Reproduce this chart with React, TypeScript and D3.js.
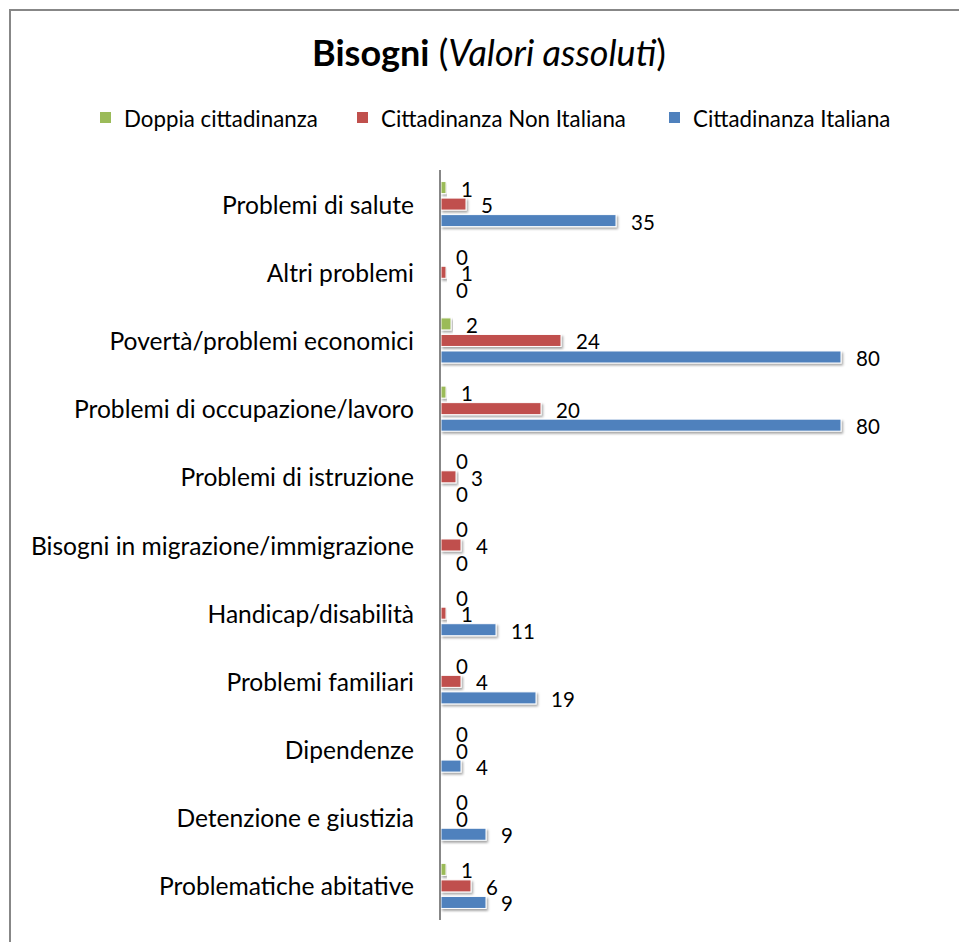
import React from "react";
import * as d3 from "d3";

const categories = [
  "Problemi di salute",
  "Altri problemi",
  "Povertà/problemi economici",
  "Problemi di occupazione/lavoro",
  "Problemi di istruzione",
  "Bisogni in migrazione/immigrazione",
  "Handicap/disabilità",
  "Problemi familiari",
  "Dipendenze",
  "Detenzione e giustizia",
  "Problematiche abitative",
];
const seriesNames = ["Doppia cittadinanza", "Cittadinanza Non Italiana", "Cittadinanza Italiana"];
const doppia = [1, 0, 2, 1, 0, 0, 0, 0, 0, 0, 1];
const nonItaliana = [5, 1, 24, 20, 3, 4, 1, 4, 0, 0, 6];
const italiana = [35, 0, 80, 80, 0, 0, 11, 19, 4, 9, 9];
const colors = ["#9BBB59", "#C0504D", "#4F81BD"];

const W = 959;
const H = 942;
const FONT = "Lato, 'Open Sans', sans-serif";

export default function App() {
  const series = [doppia, nonItaliana, italiana];
  const x = d3.scaleLinear().domain([0, 80]).range([440, 840]);
  const y = d3.scaleBand<string>().domain(categories).range([170, 920]).paddingInner(0).paddingOuter(0);
  const bw = y.bandwidth();
  const inner = d3
    .scaleBand<number>()
    .domain([0, 1, 2])
    .range([9.3, bw - 9.3])
    .paddingInner(0)
    .paddingOuter(0);
  const slot = inner.bandwidth();
  const barH = slot - 4.5;

  const legendX = [100, 357, 669];

  return (
    <div style={{ position: "absolute", left: 0, top: 0 }}>
      <svg width={W} height={H} style={{ display: "block", background: "#fff" }} fontFamily={FONT}>
        <defs>
          <filter id="sh" x="-10%" y="-50%" width="130%" height="250%">
            <feDropShadow dx="1.5" dy="2" stdDeviation="1.2" floodColor="#000" floodOpacity="0.35" />
          </filter>
        </defs>
        <rect x={10} y={10} width={W + 20} height={H + 20} fill="#fff" stroke="#878787" strokeWidth={2} />

        <text x={489} y={66} textAnchor="middle" fontSize={36} fill="#000">
          <tspan fontWeight="bold">Bisogni</tspan>
          <tspan> (</tspan>
          <tspan fontStyle="italic">Valori assoluti</tspan>
          <tspan>)</tspan>
        </text>

        {seriesNames.map((n, i) => (
          <g key={n}>
            <rect x={legendX[i]} y={112} width={11} height={11} fill={colors[i]} />
            <text x={legendX[i] + 24} y={118} dominantBaseline="central" fontSize={22.3} fill="#000">
              {n}
            </text>
          </g>
        ))}

        {categories.map((c, ci) => {
          const y0 = y(c)!;
          return (
            <g key={c}>
              <text
                x={414}
                y={y0 + bw / 2}
                textAnchor="end"
                dominantBaseline="central"
                fontSize={24.6}
                fill="#000"
              >
                {c}
              </text>
              {series.map((s, si) => {
                const v = s[ci];
                const cy = y0 + inner(si)! + slot / 2;
                return (
                  <g key={si}>
                    {v > 0 && (
                      <rect
                        x={x(0) + 1}
                        y={cy - barH / 2}
                        width={x(v) - x(0)}
                        height={barH}
                        fill={colors[si]}
                        stroke="#fff"
                        strokeWidth={1}
                        filter="url(#sh)"
                      />
                    )}
                    <text
                      x={x(v) + 16}
                      y={cy + 1}
                      dominantBaseline="central"
                      fontSize={20.5}
                      fill="#000"
                    >
                      {v}
                    </text>
                  </g>
                );
              })}
            </g>
          );
        })}

        <line x1={440} x2={440} y1={170} y2={920} stroke="#878787" strokeWidth={2} />
      </svg>
    </div>
  );
}
